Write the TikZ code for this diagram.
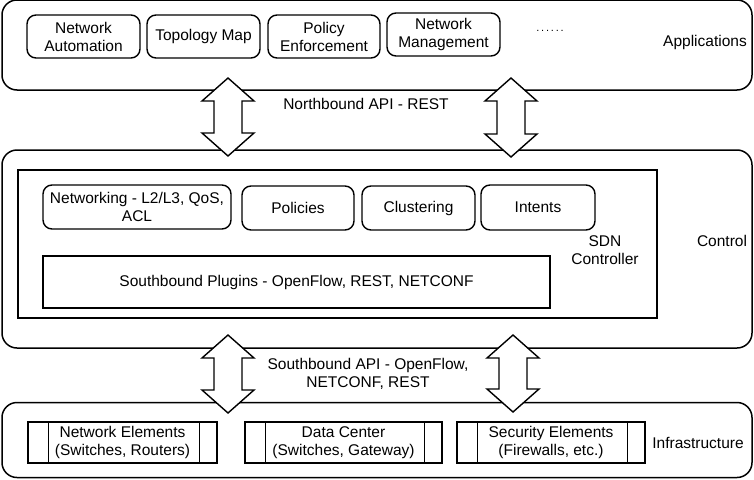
\documentclass[tikz,border=0pt]{standalone}
\usepackage{fontspec}
\setmainfont{Liberation Sans}
\usetikzlibrary{calc}
\begin{document}
\begin{tikzpicture}[x=1pt,y=-1pt,
  every node/.style={font=\fontsize{15.5}{18}\selectfont, text=black},
  layer/.style={draw, rounded corners=15pt, line width=1.5pt, inner sep=0},
  app/.style={draw, rounded corners=9pt, line width=1.4pt, align=center, inner sep=0},
  plainbox/.style={draw, line width=1.4pt, align=center, inner sep=0},
  lbl/.style={align=center, inner sep=0},
  bigarrow/.style={draw, fill=white, line width=1.4pt, line join=miter}]
\useasboundingbox (0,0) rectangle (754,479);
% layers
\node[layer, minimum width=750, minimum height=90] (appl) at (377,45) {};
\node[layer, minimum width=750, minimum height=198] (ctrl) at (377,249) {};
\node[layer, minimum width=750, minimum height=75] (infra) at (377,440) {};
% applications
\node[app, minimum width=113, minimum height=43] (na) at (83.5,36.5) {Network\\Automation};
\node[app, minimum width=113, minimum height=43] (tm) at (203.5,36.5) {Topology Map};
\node[app, minimum width=112, minimum height=43] (pe) at (324,36.5) {Policy\\Enforcement};
\node[app, minimum width=113, minimum height=43] (nm) at (443.5,34.5) {Network\\Management};
\node[lbl, font=\fontsize{11}{12}\selectfont] (dots) at (550,31) {.\,.\,.\,.\,.\,.};
\node[lbl] (applbl) at (705,42) {Applications};
% control
\node[plainbox, minimum width=639, minimum height=148] (sdn) at (337.5,244) {};
\node[app, minimum width=188, minimum height=44] (netw) at (137,207) {Networking - L2/L3, QoS,\\ACL};
\node[app, minimum width=112, minimum height=44] (pol) at (298,208) {Policies};
\node[app, minimum width=113, minimum height=44] (clu) at (418.5,208) {Clustering};
\node[app, minimum width=114, minimum height=45] (int) at (538,207.5) {Intents};
\node[plainbox, minimum width=507, minimum height=52] (sbp) at (296.5,282) {Southbound Plugins - OpenFlow, REST, NETCONF};
\node[lbl] (sdnlbl) at (605,250) {SDN\\Controller};
\node[lbl] (ctrllbl) at (722,241) {Control};
% infrastructure
\node[plainbox, minimum width=189, minimum height=41] (ne) at (122.5,442.5) {Network Elements\\(Switches, Routers)};
\node[plainbox, minimum width=197, minimum height=41] (dc) at (343.5,442.5) {Data Center\\(Switches, Gateway)};
\node[plainbox, minimum width=188, minimum height=41] (se) at (551,442.5) {Security Elements\\(Firewalls, etc.)};
\foreach \b in {ne,dc,se}{
  \draw[line width=1.4pt] ($(\b.north west)+(21,0)$) -- ($(\b.south west)+(21,0)$);
  \draw[line width=1.4pt] ($(\b.north east)+(-18,0)$) -- ($(\b.south east)+(-18,0)$);
}
\node[lbl] (infralbl) at (698,443) {Infrastructure};
% arrows
\foreach \cx/\ty/\by in {228/78/156, 511/78/157, 228/335/413, 513/335/412}{
  \draw[bigarrow] (\cx,\ty) -- (\cx+26,\ty+23) -- (\cx+14,\ty+23) -- (\cx+14,\by-23)
    -- (\cx+26,\by-23) -- (\cx,\by) -- (\cx-26,\by-23) -- (\cx-14,\by-23)
    -- (\cx-14,\ty+23) -- (\cx-26,\ty+23) -- cycle;
}
\node[lbl] (nblbl) at (366,104) {Northbound API - REST};
\node[lbl] (sblbl) at (368,374) {Southbound API - OpenFlow,\\NETCONF, REST};
\end{tikzpicture}
\end{document}
